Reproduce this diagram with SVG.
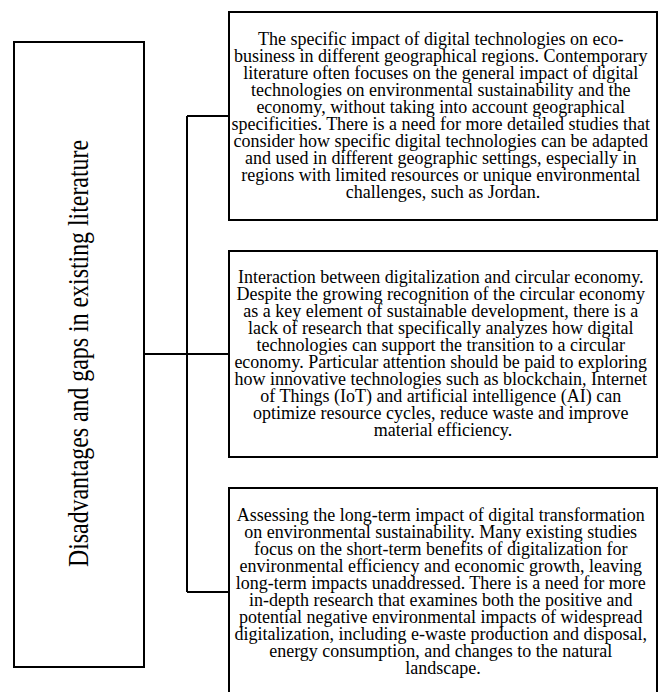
<svg xmlns="http://www.w3.org/2000/svg" width="668" height="692" viewBox="0 0 668 692">
<style>
.box{fill:#fff;stroke:#000;stroke-width:2}
.con{fill:none;stroke:#000;stroke-width:2}
.t{font-family:"Liberation Serif","Times New Roman",serif;font-size:18px;fill:#000;text-anchor:middle}
.lab{font-family:"Liberation Serif","Times New Roman",serif;font-size:29px;fill:#000;text-anchor:middle}
</style>
<rect width="668" height="692" fill="#fff"/>
<g id="connectors">
<path class="con" d="M144 354H187M187 116V592M187 116H229M187 354H229M187 592H229"/>
</g>
<g id="main">
<rect class="box" x="14" y="42" width="130" height="625"/>
<text class="lab" transform="translate(88 353.5) rotate(-90)" x="0" y="0" textLength="427" lengthAdjust="spacingAndGlyphs">Disadvantages and gaps in existing literature</text>
</g>
<g id="gap1">
<rect class="box" x="229" y="12" width="428" height="208"/>
<text class="t">
<tspan x="443" y="44.5">The specific impact of digital technologies on eco-</tspan>
<tspan x="443" y="61.5">business in different geographical regions. Contemporary</tspan>
<tspan x="443" y="78.5">literature often focuses on the general impact of digital</tspan>
<tspan x="443" y="95.5">technologies on environmental sustainability and the</tspan>
<tspan x="443" y="112.5">economy, without taking into account geographical</tspan>
<tspan x="443" y="129.5">specificities. There is a need for more detailed studies that</tspan>
<tspan x="443" y="146.5">consider how specific digital technologies can be adapted</tspan>
<tspan x="443" y="163.5">and used in different geographic settings, especially in</tspan>
<tspan x="443" y="180.5">regions with limited resources or unique environmental</tspan>
<tspan x="443" y="197.5">challenges, such as Jordan.</tspan>
</text>
</g>
<g id="gap2">
<rect class="box" x="229" y="251" width="428" height="206"/>
<text class="t">
<tspan x="443" y="283">Interaction between digitalization and circular economy.</tspan>
<tspan x="443" y="300">Despite the growing recognition of the circular economy</tspan>
<tspan x="443" y="317">as a key element of sustainable development, there is a</tspan>
<tspan x="443" y="334">lack of research that specifically analyzes how digital</tspan>
<tspan x="443" y="351">technologies can support the transition to a circular</tspan>
<tspan x="443" y="368">economy. Particular attention should be paid to exploring</tspan>
<tspan x="443" y="385">how innovative technologies such as blockchain, Internet</tspan>
<tspan x="443" y="402">of Things (IoT) and artificial intelligence (AI) can</tspan>
<tspan x="443" y="419">optimize resource cycles, reduce waste and improve</tspan>
<tspan x="443" y="436">material efficiency.</tspan>
</text>
</g>
<g id="gap3">
<rect class="box" x="229" y="488" width="428" height="210"/>
<text class="t">
<tspan x="443" y="520.5">Assessing the long-term impact of digital transformation</tspan>
<tspan x="443" y="537.5">on environmental sustainability. Many existing studies</tspan>
<tspan x="443" y="554.5">focus on the short-term benefits of digitalization for</tspan>
<tspan x="443" y="571.5">environmental efficiency and economic growth, leaving</tspan>
<tspan x="443" y="588.5">long-term impacts unaddressed. There is a need for more</tspan>
<tspan x="443" y="605.5">in-depth research that examines both the positive and</tspan>
<tspan x="443" y="622.5">potential negative environmental impacts of widespread</tspan>
<tspan x="443" y="639.5">digitalization, including e-waste production and disposal,</tspan>
<tspan x="443" y="656.5">energy consumption, and changes to the natural</tspan>
<tspan x="443" y="673.5">landscape.</tspan>
</text>
</g>
</svg>
